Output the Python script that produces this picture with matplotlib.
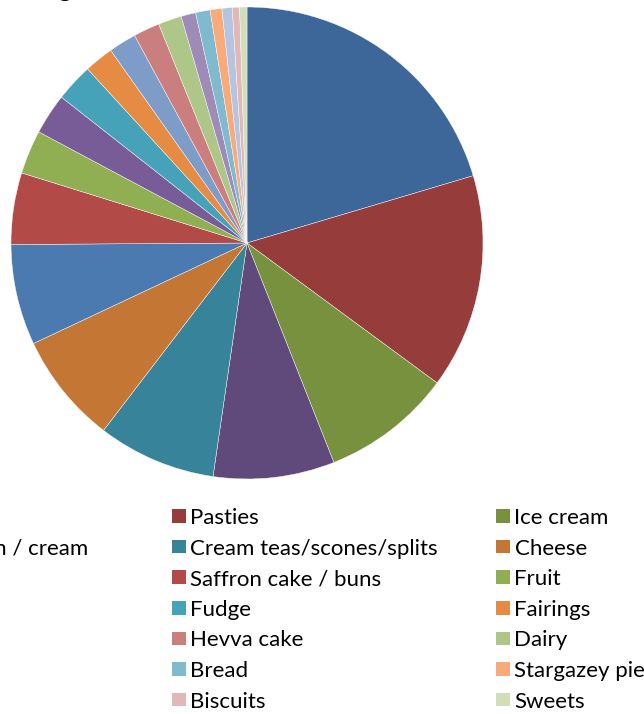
import matplotlib
matplotlib.use("Agg")
import matplotlib.pyplot as plt
from matplotlib.patches import Rectangle

# ── Data ─────────────────────────────────────────────────────────────────────
foods = [
    "Seafood", "Pasties", "Ice cream",
    "Split, with bun / cream", "Cream teas/scones/splits", "Cheese",
    "Cider", "Saffron cake / buns", "Fruit",
    "Beer", "Fudge", "Fairings",
    "Mead", "Hevva cake", "Dairy",
    "Jam", "Bread", "Stargazey pie",
    "Tea", "Biscuits", "Sweets",
]
share = [20.4, 14.7, 8.9, 8.3, 8.1, 7.6, 6.9, 4.9, 3.0, 2.8, 2.6,
         2.0, 1.9, 1.8, 1.6, 1.0, 1.0, 0.8, 0.7, 0.5, 0.5]
colours = [
    "#3D6699", "#963C3A", "#77913F", "#604A7B", "#37849A", "#C47635",
    "#4A7AB0", "#B24A48", "#90AE52", "#775C98", "#46A2B9", "#E68B44",
    "#7E9CC8", "#CA7E7D", "#AFC689", "#9E8BB8", "#7FBACE", "#F9AA7A",
    "#B6C5DF", "#E1B7B7", "#D0DEBA",
]
title = "Cornish food purchasing"

plt.rcParams["font.family"] = ["Lato", "DejaVu Sans"]

W, H = 644, 714
fig = plt.figure(figsize=(W / 100, H / 100), dpi=100)

# pie: centre (247, 243) px, radius 236 px
cx, cy, r = 247, 243, 236
ax = fig.add_axes([(cx - r) / W, (H - cy - r) / H, 2 * r / W, 2 * r / H])
ax.pie(share, colors=colours, startangle=90, counterclock=False, radius=1,
       wedgeprops=dict(edgecolor="white", linewidth=0.3))
ax.set_xlim(-1, 1)
ax.set_ylim(-1, 1)
ax.set_aspect("equal")
ax.axis("off")

# title sits mostly above the top edge
fig.text(72 / W, 1 + 3 / H, title, ha="right", va="baseline",
         fontsize=18, fontweight="bold")

# legend, 3 columns filled row by row
col_x = [-152, 172, 496]
row_y0, row_dy = 516, 30.6
sq = 13.5
for i, (name, col) in enumerate(zip(foods, colours)):
    row, c = divmod(i, 3)
    x = col_x[c]
    y = row_y0 + row * row_dy
    fig.patches.append(Rectangle((x / W, (H - y - sq / 2) / H), sq / W, sq / H,
                                 transform=fig.transFigure, facecolor=col,
                                 edgecolor="none"))
    fig.text((x + sq + 5) / W, (H - y) / H, name, ha="left", va="center_baseline",
             fontsize=16, color="#000000")

fig.savefig("out.png", dpi=100)
